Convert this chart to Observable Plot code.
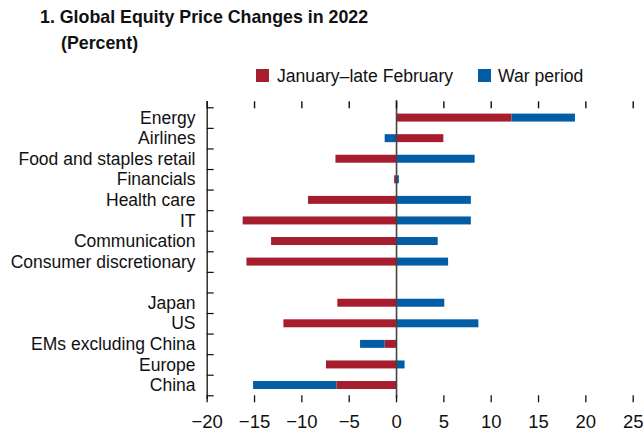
<!DOCTYPE html>
<html><head><meta charset="utf-8">
<script src="https://cdn.jsdelivr.net/npm/d3@7"></script>
<script src="https://cdn.jsdelivr.net/npm/@observablehq/plot@0.6"></script>
<style>
body{margin:0;background:#fff;font-family:"Liberation Sans",Arial,sans-serif;color:#111;}
#wrap{position:relative;width:643px;height:433px;overflow:hidden;background:#fff}
.t{position:absolute;white-space:nowrap;line-height:18px;}
.sw{position:absolute;width:13px;height:13px;}
#chart{position:absolute;left:0;top:95px;}
</style></head><body><div id="wrap">
<div class="t" style="left:40px;top:8px;font-weight:bold;font-size:17.8px">1. Global Equity Price Changes in 2022</div>
<div class="t" style="left:61px;top:34px;font-weight:bold;font-size:17.8px">(Percent)</div>
<div id="legend"></div>
<div id="chart"></div>
</div>
<script>
const categories = ["Energy","Airlines","Food and staples retail","Financials","Health care","IT","Communication","Consumer discretionary"," ","Japan","US","EMs excluding China","Europe","China"];
const series = ["January–late February","War period"];
const colors = ["#A61E2E","#005DA6"];
const janFeb    = [12.2, 5.0, -6.4, -0.2, -9.3, -16.2, -13.2, -15.8, null, -6.2, -11.9, -1.2, -7.4, -6.3];
const warPeriod = [ 6.7, -1.2, 8.3, 0.3, 7.9, 7.9, 4.4, 5.5, null, 5.1, 8.7, -2.6, 0.9, -8.8];
const xTicks = [-20,-15,-10,-5,0,5,10,15,20,25];

const data = [];
[janFeb, warPeriod].forEach((vals, si) => {
  vals.forEach((v, i) => { if (v != null) data.push({category: categories[i], series: series[si], value: v}); });
});

// legend
const legendPos = [{sx:256, tx:277}, {sx:478, tx:498}];
const leg = document.getElementById("legend");
series.forEach((s, i) => {
  const sw = document.createElement("div");
  sw.className = "sw";
  sw.style.left = legendPos[i].sx + "px";
  sw.style.top = "69px";
  sw.style.background = colors[i];
  leg.appendChild(sw);
  const t = document.createElement("div");
  t.className = "t";
  t.style.left = legendPos[i].tx + "px";
  t.style.top = "67px";
  t.style.fontSize = "17.6px";
  t.textContent = s;
  leg.appendChild(t);
});

const W = 643, H = 338, mT = 12.3, mB = 37.7, mL = 206.7, mR = 10.3;
const bw = (H - mT - mB) / categories.length;
const pxPerUnit = (W - mL - mR) / 45;
const fmt = d => d < 0 ? "\u2212" + Math.abs(d) : String(d);

const chart = Plot.plot({
  width: W, height: H,
  marginTop: mT, marginBottom: mB, marginLeft: mL, marginRight: mR,
  style: {fontFamily: '"Liberation Sans", Arial, sans-serif', fontSize: "17.5px", color: "#111", background: "transparent", overflow: "visible"},
  x: {domain: [-20, 25], ticks: xTicks},
  y: {domain: categories, padding: 0, round: false},
  color: {domain: series, range: colors},
  marks: [
    Plot.barX(data, {x: "value", y: "category", fill: "series", insetTop: 6.3, insetBottom: 6.3}),
    Plot.ruleX([0], {stroke: "#444", strokeWidth: 1.6, insetTop: -7.3, insetBottom: -2.5}),
    Plot.ruleX([-20], {stroke: "#111", strokeWidth: 1.3, insetTop: -6.3, insetBottom: -3.7}),
    Plot.ruleY(categories, {y: d => d, x1: -20, x2: -20 + 7 / pxPerUnit, dy: -bw / 2, stroke: "#111", strokeWidth: 1.2}),
    Plot.ruleY([categories[categories.length - 1]], {y: d => d, x1: -20, x2: -20 + 7 / pxPerUnit, dy: bw / 2, stroke: "#111", strokeWidth: 1.2}),
    Plot.axisX({anchor: "top", ticks: xTicks, tickSize: 7, tickFormat: () => "", label: null, strokeWidth: 1.4}),
    Plot.axisX({anchor: "bottom", ticks: xTicks, tickSize: 7, tickPadding: 12, tickFormat: fmt, label: null, fontSize: 18.5, strokeWidth: 1.3}),
    Plot.axisY({tickSize: 0, tickPadding: 11.7, tickFormat: d => d.trim(), label: null, fontSize: 17.5})
  ]
});
document.getElementById("chart").appendChild(chart);
</script>
</body></html>
